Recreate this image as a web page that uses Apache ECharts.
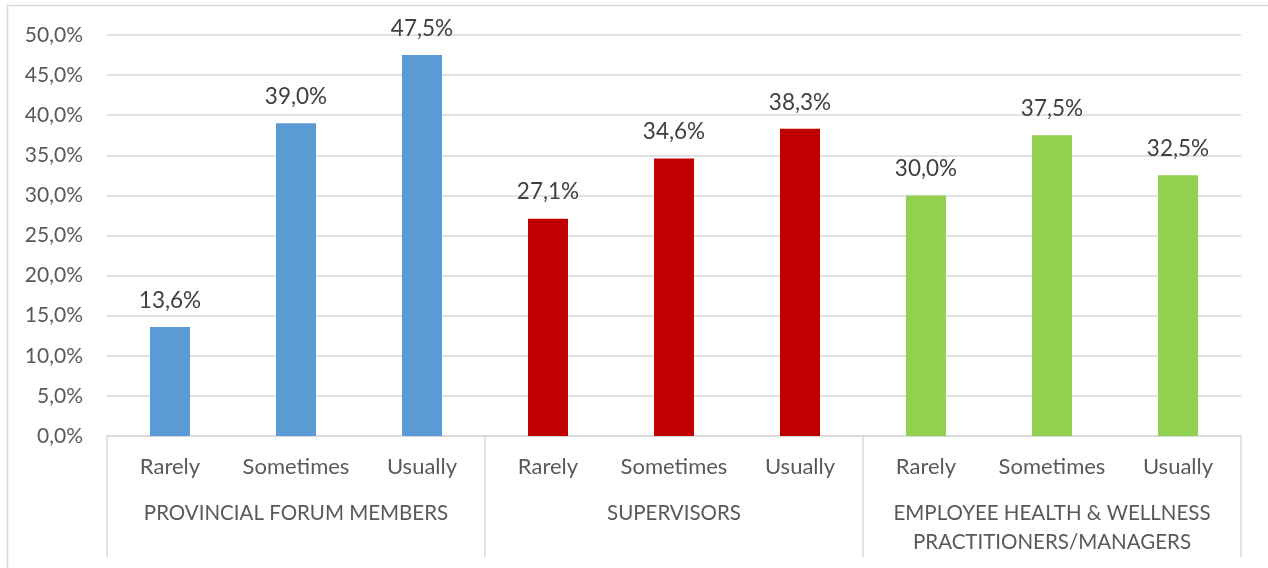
<!DOCTYPE html>
<html>
<head>
<meta charset="utf-8">
<script src="https://cdn.jsdelivr.net/npm/echarts@6/dist/echarts.min.js"></script>
<style>
  html, body { margin: 0; padding: 0; background: #ffffff; }
  #chart { width: 1268px; height: 568px; }
</style>
</head>
<body>
<div id="chart"></div>
<script>
// Respondent groups and answer frequencies
const groups = ['PROVINCIAL FORUM MEMBERS', 'SUPERVISORS', 'EMPLOYEE HEALTH & WELLNESS\nPRACTITIONERS/MANAGERS'];
const frequencies = ['Rarely', 'Sometimes', 'Usually'];

// Share of respondents (%) per group
const forumMembers = [13.6, 39.0, 47.5];
const supervisors = [27.1, 34.6, 38.3];
const ehwPractitioners = [30.0, 37.5, 32.5];

// Y axis ticks (%)
const yTicks = [0, 5, 10, 15, 20, 25, 30, 35, 40, 45, 50];

const groupColors = ['#5B9BD5', '#C00000', '#92D050'];
const groupValues = [forumMembers, supervisors, ehwPractitioners];

const fmt = v => v.toFixed(1).replace('.', ',') + '%';

const categories = [];
const barData = [];
groupValues.forEach((vals, g) => {
  vals.forEach((v, i) => {
    categories.push(frequencies[i]);
    barData.push({ value: v, itemStyle: { color: groupColors[g] } });
  });
});

const FONT = 'Lato, "Open Sans", sans-serif';
const chart = echarts.init(document.getElementById('chart'), null, { renderer: 'canvas' });

chart.setOption({
  animation: false,
  backgroundColor: '#ffffff',
  textStyle: { fontFamily: FONT },
  graphic: [{
    type: 'rect',
    shape: { x: 7.5, y: 5.5, width: 1270, height: 600 },
    style: { fill: 'none', stroke: '#d9d9d9', lineWidth: 1.5 },
    silent: true
  }],
  grid: { left: 107, right: 27, top: 35, bottom: 132, containLabel: false },
  xAxis: [
    {
      type: 'category',
      data: categories,
      position: 'bottom',
      axisLine: { show: false },
      axisTick: { show: false },
      axisLabel: { color: '#595959', fontSize: 22, fontFamily: FONT, margin: 20, interval: 0 }
    },
    {
      type: 'category',
      data: groups,
      position: 'bottom',
      axisLine: { show: true, lineStyle: { color: '#d9d9d9', width: 1.5 } },
      axisTick: { show: true, length: 121, lineStyle: { color: '#d9d9d9', width: 1.5 } },
      axisLabel: { color: '#595959', fontSize: 20.5, fontFamily: FONT, margin: 63, interval: 0, lineHeight: 29 }
    }
  ],
  yAxis: {
    type: 'value',
    min: yTicks[0],
    max: yTicks[yTicks.length - 1],
    interval: yTicks[1] - yTicks[0],
    axisLine: { show: false },
    axisTick: { show: false },
    splitLine: { lineStyle: { color: '#d9d9d9', width: 1.5 } },
    axisLabel: { color: '#595959', fontSize: 21, fontFamily: FONT, margin: 24, formatter: v => fmt(v) }
  },
  series: [{
    type: 'bar',
    xAxisIndex: 0,
    data: barData,
    barWidth: 40,
    label: {
      show: true,
      position: 'top',
      distance: 15,
      color: '#404040',
      fontSize: 22.5,
      fontFamily: FONT,
      formatter: p => fmt(p.value)
    }
  }]
});
</script>
</body>
</html>
